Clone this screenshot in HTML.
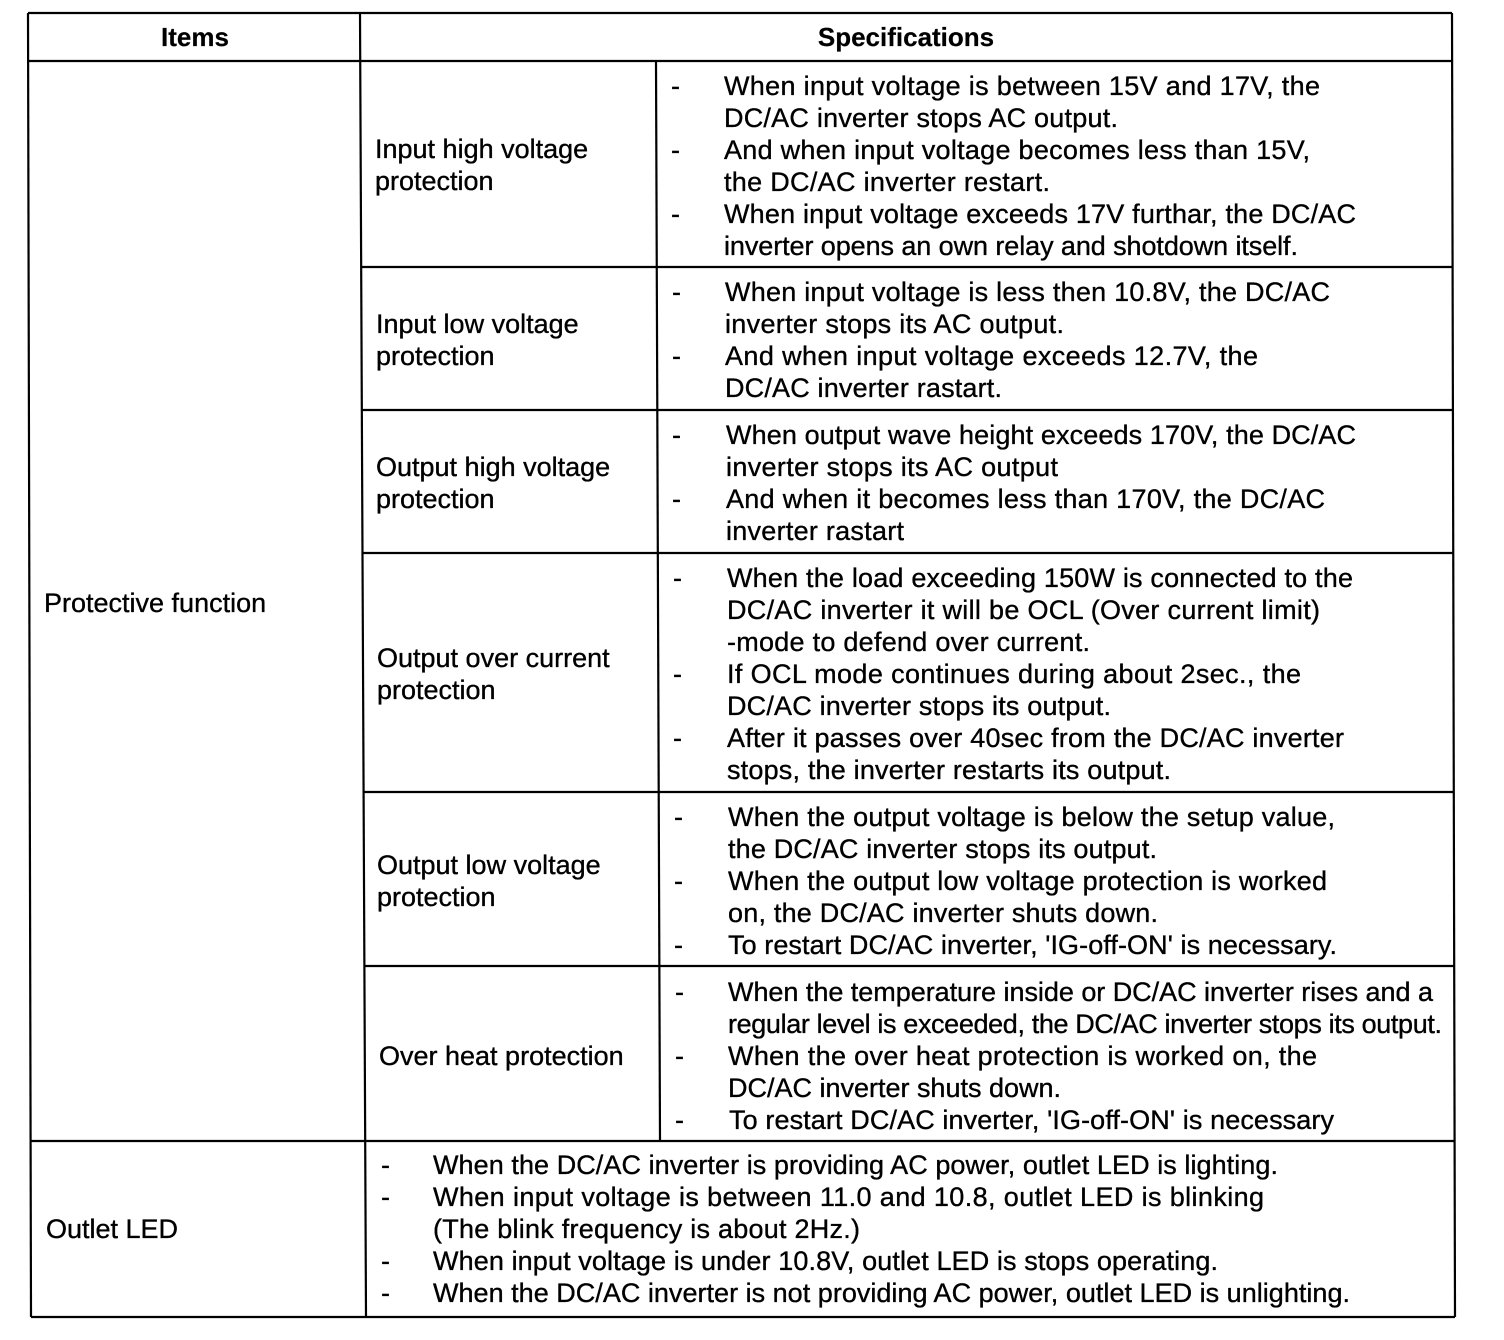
<!DOCTYPE html>
<html>
<head>
<meta charset="utf-8">
<style>
  html,body{margin:0;padding:0;background:#fff;}
  body{width:1504px;height:1340px;overflow:hidden;}
  svg{display:block;}
  text{font-family:"Liberation Sans","DejaVu Sans",sans-serif;font-size:27px;fill:#000;stroke:#000;stroke-width:0.35px;}
  .b{font-weight:bold;font-size:26px;stroke-width:0.2px;}
</style>
</head>
<body>
<svg width="1504" height="1340" viewBox="0 0 1504 1340" xmlns="http://www.w3.org/2000/svg">
  <rect x="0" y="0" width="1504" height="1340" fill="#fff"/>
  <g stroke="#000" stroke-width="2.2" fill="none">
    <line x1="28" y1="13" x2="1452" y2="13"/>
    <line x1="28" y1="61" x2="1452" y2="61"/>
    <line x1="28" y1="13" x2="31" y2="1317"/>
    <line x1="1452" y1="13" x2="1455" y2="1317"/>
    <line x1="360" y1="13" x2="366" y2="1317"/>
    <line x1="656" y1="61" x2="660" y2="1141"/>
    <line x1="361" y1="267" x2="1452" y2="267"/>
    <line x1="362" y1="410" x2="1453" y2="410"/>
    <line x1="362" y1="553" x2="1453" y2="553"/>
    <line x1="363" y1="792" x2="1454" y2="792"/>
    <line x1="364" y1="966" x2="1454" y2="966"/>
    <line x1="30" y1="1141" x2="1455" y2="1141"/>
    <line x1="31" y1="1317" x2="1455" y2="1317"/>
  </g>

  <!-- Header -->
  <text class="b" x="195" y="46" text-anchor="middle">Items</text>
  <text class="b" x="906" y="46" text-anchor="middle">Specifications</text>

  <!-- Column 1 -->
  <text x="44" y="612">Protective function</text>
  <text x="46" y="1238">Outlet LED</text>

  <!-- Column 2 labels -->
  <text x="375" y="158">Input high voltage</text>
  <text x="375" y="190">protection</text>
  <text x="376" y="333">Input low voltage</text>
  <text x="376" y="365">protection</text>
  <text x="376" y="476">Output high voltage</text>
  <text x="376" y="508">protection</text>
  <text x="377" y="667">Output over current</text>
  <text x="377" y="699">protection</text>
  <text x="377" y="874">Output low voltage</text>
  <text x="377" y="906">protection</text>
  <text x="379" y="1065">Over heat protection</text>

  <!-- Row 1 -->
  <text x="671" y="95">-</text>
  <text x="724" y="95" textLength="596" lengthAdjust="spacing">When input voltage is between 15V and 17V, the</text>
  <text x="724" y="127" textLength="394" lengthAdjust="spacing">DC/AC inverter stops AC output.</text>
  <text x="671" y="159">-</text>
  <text x="724" y="159" textLength="586" lengthAdjust="spacing">And when input voltage becomes less than 15V,</text>
  <text x="724" y="191" textLength="326" lengthAdjust="spacing">the DC/AC inverter restart.</text>
  <text x="671" y="223">-</text>
  <text x="724" y="223" textLength="632" lengthAdjust="spacing">When input voltage exceeds 17V furthar, the DC/AC</text>
  <text x="724" y="255" textLength="574" lengthAdjust="spacing">inverter opens an own relay and shotdown itself.</text>

  <!-- Row 2 -->
  <text x="672" y="301">-</text>
  <text x="725" y="301" textLength="605" lengthAdjust="spacing">When input voltage is less then 10.8V, the DC/AC</text>
  <text x="725" y="333" textLength="339" lengthAdjust="spacing">inverter stops its AC output.</text>
  <text x="672" y="365">-</text>
  <text x="725" y="365" textLength="533" lengthAdjust="spacing">And when input voltage exceeds 12.7V, the</text>
  <text x="725" y="397" textLength="277" lengthAdjust="spacing">DC/AC inverter rastart.</text>

  <!-- Row 3 -->
  <text x="672" y="444">-</text>
  <text x="726" y="444" textLength="630" lengthAdjust="spacing">When output wave height exceeds 170V, the DC/AC</text>
  <text x="726" y="476" textLength="332" lengthAdjust="spacing">inverter stops its AC output</text>
  <text x="672" y="508">-</text>
  <text x="726" y="508" textLength="599" lengthAdjust="spacing">And when it becomes less than 170V, the DC/AC</text>
  <text x="726" y="540" textLength="178" lengthAdjust="spacing">inverter rastart</text>

  <!-- Row 4 -->
  <text x="673" y="587">-</text>
  <text x="727" y="587" textLength="626" lengthAdjust="spacing">When the load exceeding 150W is connected to the</text>
  <text x="727" y="619" textLength="593" lengthAdjust="spacing">DC/AC inverter it will be OCL (Over current limit)</text>
  <text x="727" y="651" textLength="363" lengthAdjust="spacing">-mode to defend over current.</text>
  <text x="673" y="683">-</text>
  <text x="727" y="683" textLength="574" lengthAdjust="spacing">If OCL mode continues during about 2sec., the</text>
  <text x="727" y="715" textLength="384" lengthAdjust="spacing">DC/AC inverter stops its output.</text>
  <text x="673" y="747">-</text>
  <text x="727" y="747" textLength="617" lengthAdjust="spacing">After it passes over 40sec from the DC/AC inverter</text>
  <text x="727" y="779" textLength="444" lengthAdjust="spacing">stops, the inverter restarts its output.</text>

  <!-- Row 5 -->
  <text x="674" y="826">-</text>
  <text x="728" y="826" textLength="607" lengthAdjust="spacing">When the output voltage is below the setup value,</text>
  <text x="728" y="858" textLength="429" lengthAdjust="spacing">the DC/AC inverter stops its output.</text>
  <text x="674" y="890">-</text>
  <text x="728" y="890" textLength="599" lengthAdjust="spacing">When the output low voltage protection is worked</text>
  <text x="728" y="922" textLength="430" lengthAdjust="spacing">on, the DC/AC inverter shuts down.</text>
  <text x="674" y="954">-</text>
  <text x="728" y="954" textLength="609" lengthAdjust="spacing">To restart DC/AC inverter, 'IG-off-ON' is necessary.</text>

  <!-- Row 6 -->
  <text x="675" y="1001">-</text>
  <text x="728" y="1001" textLength="705" lengthAdjust="spacing">When the temperature inside or DC/AC inverter rises and a</text>
  <text x="728" y="1033" textLength="714" lengthAdjust="spacing">regular level is exceeded, the DC/AC inverter stops its output.</text>
  <text x="675" y="1065">-</text>
  <text x="728" y="1065" textLength="589" lengthAdjust="spacing">When the over heat protection is worked on, the</text>
  <text x="728" y="1097" textLength="333" lengthAdjust="spacing">DC/AC inverter shuts down.</text>
  <text x="675" y="1129">-</text>
  <text x="729" y="1129" textLength="605" lengthAdjust="spacing">To restart DC/AC inverter, 'IG-off-ON' is necessary</text>

  <!-- Outlet LED -->
  <text x="381" y="1174">-</text>
  <text x="433" y="1174" textLength="845" lengthAdjust="spacing">When the DC/AC inverter is providing AC power, outlet LED is lighting.</text>
  <text x="381" y="1206">-</text>
  <text x="433" y="1206" textLength="831" lengthAdjust="spacing">When input voltage is between 11.0 and 10.8, outlet LED is blinking</text>
  <text x="433" y="1238" textLength="427" lengthAdjust="spacing">(The blink frequency is about 2Hz.)</text>
  <text x="381" y="1270">-</text>
  <text x="433" y="1270" textLength="785" lengthAdjust="spacing">When input voltage is under 10.8V, outlet LED is stops operating.</text>
  <text x="381" y="1302">-</text>
  <text x="433" y="1302" textLength="917" lengthAdjust="spacing">When the DC/AC inverter is not providing AC power, outlet LED is unlighting.</text>
</svg>
</body>
</html>
